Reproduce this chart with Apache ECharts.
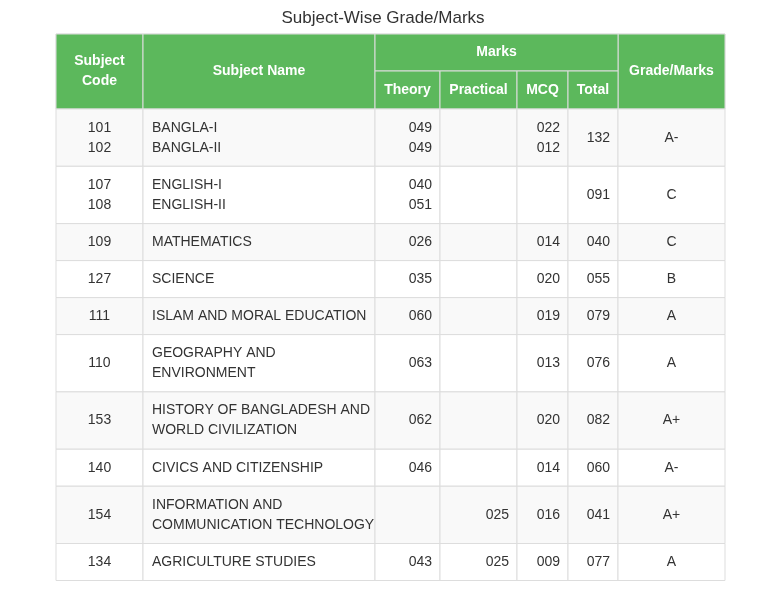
<!DOCTYPE html>
<html><head><meta charset="utf-8">
<script src="https://cdn.jsdelivr.net/npm/echarts@6/dist/echarts.min.js"></script>
<style>html,body{margin:0;padding:0;background:#fff}#c{width:766px;height:589px}</style>
</head><body><div id="c"></div>
<script>
var title = 'Subject-Wise Grade/Marks';
var codes = [['101','102'],['107','108'],['109'],['127'],['111'],['110'],['153'],['140'],['154'],['134']];
var names = [['BANGLA-I','BANGLA-II'],['ENGLISH-I','ENGLISH-II'],['MATHEMATICS'],['SCIENCE'],['ISLAM AND MORAL EDUCATION'],['GEOGRAPHY AND','ENVIRONMENT'],['HISTORY OF BANGLADESH AND','WORLD CIVILIZATION'],['CIVICS AND CITIZENSHIP'],['INFORMATION AND','COMMUNICATION TECHNOLOGY'],['AGRICULTURE STUDIES']];
var theory = [['049','049'],['040','051'],['026'],['035'],['060'],['063'],['062'],['046'],[''],['043']];
var practical = [[''],[''],[''],[''],[''],[''],[''],[''],['025'],['025']];
var mcq = [['022','012'],[''],['014'],['020'],['019'],['013'],['020'],['014'],['016'],['009']];
var total = ['132','091','040','055','079','076','082','060','041','077'];
var grade = ['A-','C','C','B','A','A','A+','A-','A+','A'];
var subHeaders = ['Theory','Practical','MCQ','Total'];

var colX = [56,143,375,440,517,568,618,725];
var headTop = 34, headMid = 71, headBot = 109;
var rowH1 = 37, rowH2 = 57.3, lineH = 20;
var green = '#5cb85c', border = '#dddddd', txt = '#333';
var font = '14px "Liberation Sans", Arial, sans-serif';
var bold = 'bold 14px "Liberation Sans", Arial, sans-serif';
var g = [];
function rect(x,y,w,h,fill){g.push({type:'rect',shape:{x:x,y:y,width:w,height:h},style:{fill:fill,stroke:border,lineWidth:1}});}
function text(s,x,y,align,f,color){g.push({type:'text',x:x,y:y,style:{text:s,font:f||font,fill:color||txt,align:align,verticalAlign:'middle'}});}
function lines(arr,x,yc,align){var n=arr.length;for(var i=0;i<n;i++)text(arr[i],x,yc+(i-(n-1)/2)*lineH,align);}
// header
rect(colX[0],headTop,colX[7]-colX[0],headBot-headTop,green);
[[0,1],[1,2],[6,7]].forEach(function(p){rect(colX[p[0]],headTop,colX[p[1]]-colX[p[0]],headBot-headTop,green);});
rect(colX[2],headTop,colX[6]-colX[2],headMid-headTop,green);
for(var k=2;k<6;k++){rect(colX[k],headMid,colX[k+1]-colX[k],headBot-headMid,green);text(subHeaders[k-2],(colX[k]+colX[k+1])/2,(headMid+headBot)/2,'center',bold,'#fff');}
var hc=(headTop+headBot)/2;
g.push({type:'text',x:(colX[0]+colX[1])/2,y:hc,style:{text:'Subject\nCode',font:bold,fill:'#fff',align:'center',verticalAlign:'middle',lineHeight:20}});
text('Subject Name',(colX[1]+colX[2])/2,hc,'center',bold,'#fff');
text('Marks',(colX[2]+colX[6])/2,(headTop+headMid)/2,'center',bold,'#fff');
text('Grade/Marks',(colX[6]+colX[7])/2,hc,'center',bold,'#fff');
// rows
var y=headBot;
for(var r=0;r<codes.length;r++){
  var two = Math.max(codes[r].length,names[r].length)>1;
  var h = two?rowH2:rowH1;
  var fill = r%2===0?'#f9f9f9':'#ffffff';
  for(var c=0;c<7;c++)rect(colX[c],y,colX[c+1]-colX[c],h,fill);
  var yc=y+h/2;
  lines(codes[r],(colX[0]+colX[1])/2,yc,'center');
  lines(names[r],colX[1]+9,yc,'left');
  lines(theory[r],colX[3]-8,yc,'right');
  lines(practical[r],colX[4]-8,yc,'right');
  lines(mcq[r],colX[5]-8,yc,'right');
  text(total[r],colX[6]-8,yc,'right');
  text(grade[r],(colX[6]+colX[7])/2,yc,'center');
  y+=h;
}
var chart = echarts.init(document.getElementById('c'));
chart.setOption({
  title:{text:title,left:'center',top:5,textStyle:{fontSize:17,fontWeight:'normal',color:'#333',fontFamily:'"Liberation Sans", Arial, sans-serif'}},
  graphic:g
});
</script></body></html>
